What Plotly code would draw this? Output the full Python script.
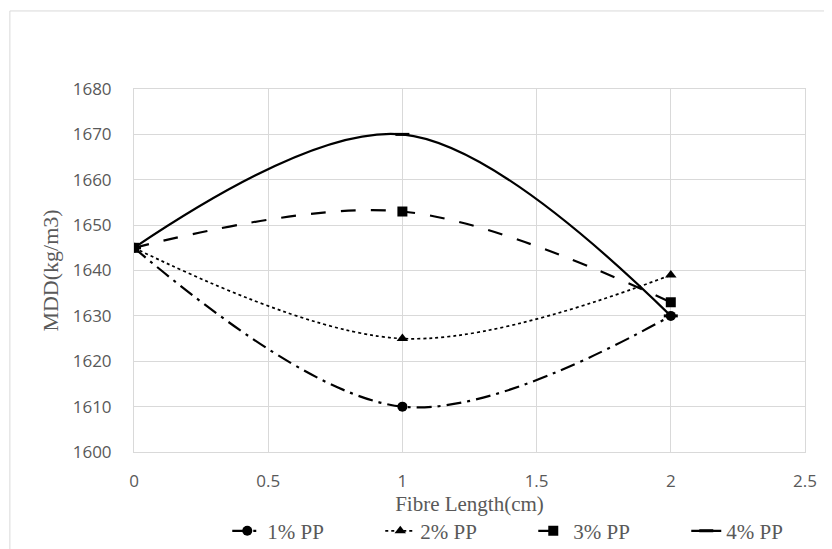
import plotly.graph_objects as go

x_vals = [0, 1, 2]
pp1 = [1645, 1610, 1630]
pp2 = [1645, 1625, 1639]
pp3 = [1645, 1653, 1633]
pp4 = [1645, 1670, 1630]
names = ["1% PP", "2% PP", "3% PP", "4% PP"]
x_ticks = [0, 0.5, 1, 1.5, 2, 2.5]
x_ticktext = ["0", "0.5", "1", "1.5", "2", "2.5"]

styles = [
    dict(dash="longdashdot", symbol="circle", size=10, width=2.2),
    dict(dash="dot", symbol="triangle-up", size=10, width=1.7),
    dict(dash="longdash", symbol="square", size=10, width=2.2),
    dict(dash="solid", symbol="line-ew", size=10, width=2.2),
]

fig = go.Figure()
for name, ys, st in zip(names, [pp1, pp2, pp3, pp4], styles):
    marker = dict(symbol=st["symbol"], size=st["size"], color="black")
    if st["symbol"] == "line-ew":
        marker["line"] = dict(color="black", width=3)
    fig.add_trace(go.Scatter(
        x=x_vals, y=ys, name=name, mode="lines+markers",
        line=dict(color="black", dash=st["dash"], width=st["width"], shape="spline", smoothing=1),
        marker=marker,
    ))

fig.update_layout(
    width=824, height=541,
    paper_bgcolor="white", plot_bgcolor="white",
    margin=dict(l=126, r=27, t=81, b=97, autoexpand=False),
    showlegend=True,
    legend=dict(orientation="h", x=0.139, xanchor="left", y=-0.218, yanchor="middle",
                font=dict(family="Liberation Serif", size=21, color="#595959"),
                entrywidth=108, entrywidthmode="pixels", tracegroupgap=0,
                bgcolor="rgba(0,0,0,0)"),
    font=dict(family="Open Sans", color="#595959"),
    shapes=[dict(type="rect", xref="paper", yref="paper", x0=-0.185, x1=1.08, y0=-0.4, y1=1.215,
                 line=dict(color="#d9d9d9", width=1), layer="below")],
)
fig.update_xaxes(
    range=[0, 2.5], tickvals=x_ticks, ticktext=x_ticktext,
    showgrid=True, gridcolor="#d9d9d9", gridwidth=1,
    showline=True, linecolor="#d9d9d9", mirror=True, zeroline=False,
    ticks="", ticklabelstandoff=14,
    tickfont=dict(family="Open Sans", size=17, color="#595959"),
    title=dict(text="Fibre Length(cm)", font=dict(family="Liberation Serif", size=21, color="#595959"), standoff=2),
)
fig.update_yaxes(
    range=[1600, 1680], dtick=10,
    showgrid=True, gridcolor="#d9d9d9", gridwidth=1,
    showline=True, linecolor="#d9d9d9", mirror=True, zeroline=False,
    ticks="", ticklabelstandoff=18,
    tickfont=dict(family="Open Sans", size=17, color="#595959"),
    title=dict(text="MDD(kg/m3)", font=dict(family="Liberation Serif", size=22, color="#595959"), standoff=8),
)
fig.write_html("out.html")
